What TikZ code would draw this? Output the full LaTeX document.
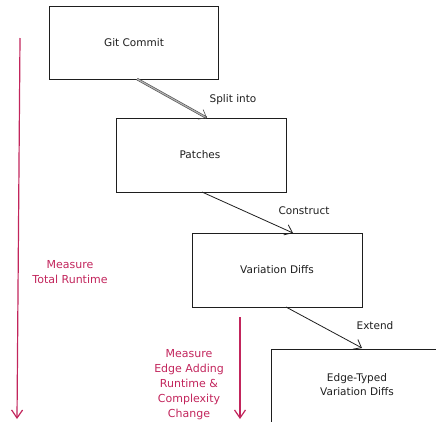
\documentclass[tikz,border=0pt]{standalone}
\usepackage{fontspec}
\setmainfont{DejaVu Sans}
\usetikzlibrary{arrows.meta}
\definecolor{exred}{HTML}{C2255C}
\definecolor{ink}{HTML}{1E1E1E}
\begin{document}
\begin{tikzpicture}[x=1pt,y=-1pt,
  stagebox/.style={draw=ink,line width=1pt,fill=white,inner sep=0pt},
  lbl/.style={font=\fontsize{10.5}{14}\selectfont,text=ink,align=center},
  redlbl/.style={font=\fontsize{11}{15}\selectfont,text=exred,align=center},
  flow/.style={draw=ink,line width=0.8pt,-{Straight Barb[length=7pt,width=11pt]}},
  measure/.style={draw=exred,line width=1.2pt,-{Straight Barb[length=8pt,width=11pt]}}]
\useasboundingbox (0,0) rectangle (436,421);
% boxes
\draw[stagebox] (49,6) rectangle (218,79);
\node[lbl] (git) at (134,43) {Git Commit};
\draw[stagebox] (116,118) rectangle (286,192);
\node[lbl] (pat) at (200,155) {Patches};
\draw[stagebox] (192,233) rectangle (362,307);
\node[lbl] (var) at (277,270) {Variation Diffs};
\draw[stagebox] (271,349) -- (440,349) (271,349) -- (271,425);
\node[lbl] (edge) at (357,385) {Edge-Typed\\Variation Diffs};
% anchor coordinates
\coordinate (gitb) at (137,79);
\coordinate (patt) at (207,118);
\coordinate (patb) at (202,192);
\coordinate (vart) at (293,233);
\coordinate (varb) at (286,307);
\coordinate (edget) at (362,348);
% connectors
\draw[ink!80,line width=0.6pt,double=gray!60,double distance=1.2pt,-{Straight Barb[length=7pt,width=11pt]}] (gitb) -- (patt);
\node[lbl] (split) at (233,100) {Split into};
\draw[flow] (patb) -- (vart);
\node[lbl] (cons) at (304,211) {Construct};
\draw[flow] (varb) -- (edget);
\node[lbl] (ext) at (375,326) {Extend};
% measure arrows
\coordinate (m1a) at (20,38);
\coordinate (m1b) at (17,419);
\draw[measure] (m1a) -- (m1b);
\node[redlbl] (tot) at (70,272) {Measure\\Total Runtime};
\coordinate (m2a) at (240,317);
\coordinate (m2b) at (240,419);
\draw[measure] (m2a) -- (m2b);
\node[redlbl] (edm) at (189,385) {Measure\\Edge Adding\\Runtime \&\\Complexity\\Change};
\end{tikzpicture}
\end{document}
